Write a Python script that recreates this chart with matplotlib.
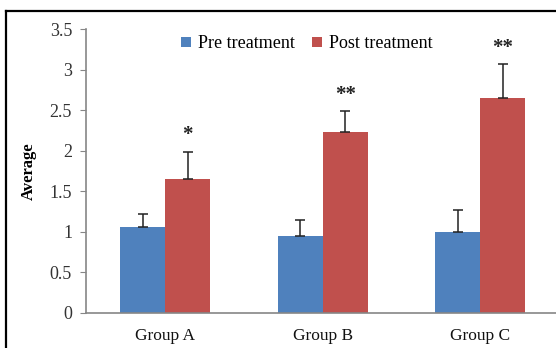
import matplotlib.pyplot as plt
import numpy as np
from matplotlib.lines import Line2D

groups = ["Group A", "Group B", "Group C"]
pre_mean = [1.06, 0.95, 1.00]
pre_err = [0.16, 0.19, 0.27]
post_mean = [1.65, 2.23, 2.65]
post_err = [0.34, 0.26, 0.42]
post_stars = ["*", "**", "**"]

BLUE = "#4F81BD"
RED = "#C0504D"
AXIS_GRAY = "#868686"

plt.rcParams["font.family"] = ["Liberation Serif", "DejaVu Serif"]

fig = plt.figure(figsize=(5.56, 3.48), dpi=100)
ax = fig.add_axes([0.1547, 0.1006, 0.845, 0.816])

x = np.arange(len(groups))
width = 0.286

ax.bar(x - width / 2, pre_mean, width, color=BLUE, label="Pre treatment",
       yerr=[np.zeros(len(pre_err)), pre_err], capsize=3.5,
       error_kw=dict(ecolor="#222222", elinewidth=1.1, capthick=1.1))
ax.bar(x + width / 2, post_mean, width, color=RED, label="Post treatment",
       yerr=[np.zeros(len(post_err)), post_err], capsize=3.5,
       error_kw=dict(ecolor="#222222", elinewidth=1.1, capthick=1.1))

# significance markers above the post-treatment error bars
for xi, m, e, s in zip(x, post_mean, post_err, post_stars):
    ax.text(xi + width / 2, m + e + 0.2, s, ha="center", va="center",
            fontsize=15, fontweight="bold", color="#222222")

ax.set_xlim(-0.502, 2.48)
ax.set_ylim(0, 3.5)
ax.set_yticks(np.arange(0, 3.51, 0.5))
ax.set_yticklabels(["0", "0.5", "1", "1.5", "2", "2.5", "3", "3.5"])
ax.set_xticks(x)
ax.set_xticklabels(groups)
ax.tick_params(axis="y", length=4, color=AXIS_GRAY, labelsize=13,
               labelcolor="#333333", pad=6)
ax.tick_params(axis="x", length=0, labelsize=12.5, labelcolor="#111111", pad=11)

for side in ["top", "right"]:
    ax.spines[side].set_visible(False)
for side in ["left", "bottom"]:
    ax.spines[side].set_color(AXIS_GRAY)
    ax.spines[side].set_linewidth(1.2)

ax.set_ylabel("Average", fontsize=12, fontweight="bold", labelpad=9)

ax.legend(loc="upper center", bbox_to_anchor=(0.47, 1.035), ncol=2,
          frameon=False, fontsize=13, handlelength=0.55, handleheight=0.55,
          handletextpad=0.35, columnspacing=1.0)

# black border along the top and left edges
fig.add_artist(Line2D([6 / 556, 1], [1 - 11 / 348, 1 - 11 / 348],
                      transform=fig.transFigure, color="black", linewidth=1.6))
fig.add_artist(Line2D([6 / 556, 6 / 556], [0, 1 - 11 / 348],
                      transform=fig.transFigure, color="black", linewidth=1.6))

fig.savefig("out.png", dpi=100)
